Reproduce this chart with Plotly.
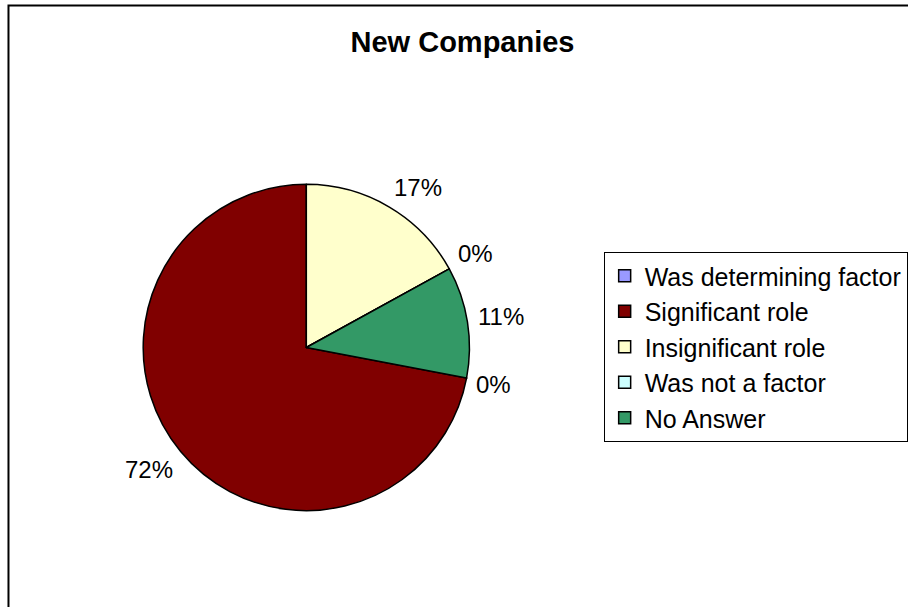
import math
import plotly.graph_objects as go

# Survey answers for new companies
categories = ["Was determining factor", "Significant role", "Insignificant role",
              "Was not a factor", "No Answer"]
shares = [0, 72, 17, 0, 11]
colors = ["#9999FF", "#800000", "#FFFFCC", "#CCFFFF", "#339966"]

W, H = 908, 607
FONT = "Liberation Sans, Arial, sans-serif"
LABEL_SIZE = 24

# Pie placement in pixels
cx, cy, r = 307.0, 347.5, 163.5
domain_x = [(cx - r) / W, (cx + r) / W]
domain_y = [1 - (cy + r) / H, 1 - (cy - r) / H]

# Start angle so the first slices wrap around back to 12 o'clock after the big slice
total = sum(shares)
rotation = 360.0 * sum(shares[2:]) / total

fig = go.Figure(go.Pie(
    labels=categories,
    values=shares,
    sort=False,
    direction="clockwise",
    rotation=rotation,
    domain=dict(x=domain_x, y=domain_y),
    marker=dict(colors=colors, line=dict(color="black", width=1.5)),
    textinfo="none",
    hoverinfo="label+percent",
    showlegend=True,
))


def clamp(v):
    return max(-1.0, min(1.0, v))


# Percentage labels placed just outside each slice, pushed away from the rim
annotations = []
angle = rotation
gap = 10.0
for v in shares:
    span = 360.0 * v / total
    mid = math.radians(angle + span / 2)
    s, c = math.sin(mid), math.cos(mid)
    text = f"{round(100 * v / total)}%"
    tw = LABEL_SIZE * (0.556 * (len(text) - 1) + 0.889)
    th = 22.0
    px = cx + (r + gap) * s + tw / 2 * clamp(2 * s)
    py = cy - (r + gap) * c - th / 2 * clamp(2 * c)
    annotations.append(dict(
        x=px / W, y=1 - py / H, xref="paper", yref="paper",
        text=text, showarrow=False,
        xanchor="center", yanchor="middle",
        font=dict(family=FONT, size=LABEL_SIZE, color="black"),
    ))
    angle += span

fig.update_layout(
    width=W, height=H,
    margin=dict(l=0, r=0, t=0, b=0),
    paper_bgcolor="white",
    plot_bgcolor="white",
    title=dict(text="<b>New Companies</b>", x=462.5 / W, y=1 - 42 / H,
               xanchor="center", yanchor="middle",
               font=dict(family=FONT, size=29, color="black")),
    legend=dict(x=605 / W, y=1 - 252 / H, xanchor="left", yanchor="top",
                bordercolor="black", borderwidth=1, bgcolor="white",
                font=dict(family=FONT, size=25, color="black"),
                traceorder="normal"),
    annotations=annotations,
    shapes=[dict(type="rect", xref="paper", yref="paper",
                 x0=8.5 / W, x1=1.05, y0=-0.05, y1=1 - 5.5 / H,
                 line=dict(color="black", width=2), layer="below")],
)

fig.write_html("out.html")
